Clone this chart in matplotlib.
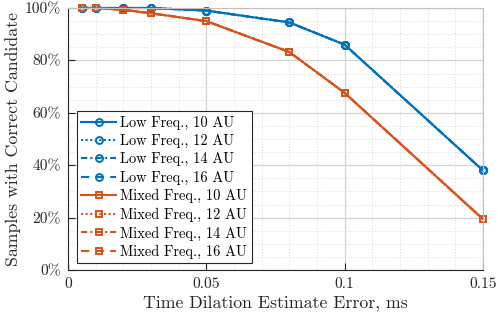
import matplotlib.pyplot as plt
from matplotlib.ticker import MultipleLocator, FuncFormatter

# data
err_ms = [0.005, 0.01, 0.02, 0.03, 0.05, 0.08, 0.1, 0.15]
low_freq = [100, 100, 100, 100, 99, 94.5, 86, 38]
mixed_freq = [100, 100, 99.3, 98, 95, 83.2, 67.6, 19.4]
au_labels = ['10 AU', '12 AU', '14 AU', '16 AU']
styles = ['-', (0, (1, 1.2)), (0, (3, 1.5, 1, 1.5)), (0, (4, 3))]

BLUE = '#0072BD'
ORANGE = '#D95319'

plt.rcParams['font.family'] = ['cmr10', 'DejaVu Serif']
plt.rcParams['mathtext.fontset'] = 'cm'
plt.rcParams['axes.formatter.use_mathtext'] = True

fig = plt.figure(figsize=(4.98, 3.17), dpi=100)
ax = fig.add_axes([68 / 498, 47 / 317, 415 / 498, 262 / 317])

for name, vals, col, mk in [('Low Freq.', low_freq, BLUE, 'o'),
                            ('Mixed Freq.', mixed_freq, ORANGE, 's')]:
   for au, ls in zip(au_labels, styles):
      ax.plot(err_ms, vals, ls=ls, color=col, marker=mk, markersize=5,
              markerfacecolor='none', markeredgewidth=1.4, linewidth=1.5,
              label='%s, %s' % (name, au), clip_on=False)

ax.set_xlim(0, 0.15)
ax.set_ylim(0, 100)
ax.xaxis.set_major_locator(MultipleLocator(0.05))
ax.xaxis.set_minor_locator(MultipleLocator(0.01))
ax.yaxis.set_major_locator(MultipleLocator(20))
ax.yaxis.set_minor_locator(MultipleLocator(5))
ax.xaxis.set_major_formatter(FuncFormatter(lambda v, p: '0' if v == 0 else ('%g' % round(v, 3))))
ax.yaxis.set_major_formatter(FuncFormatter(lambda v, p: '%d%%' % v))

ax.grid(which='major', color='#d4d4d4', linewidth=0.9, linestyle='-')
ax.grid(which='minor', color='#d8d8d8', linewidth=0.7, linestyle=(0, (1, 2)))
ax.set_axisbelow(True)
ax.tick_params(which='major', direction='in', length=5, width=0.8, color='#262626',
               labelsize=11.2, labelcolor='#262626', pad=5)
ax.tick_params(which='minor', length=0)
ax.tick_params(top=False, right=False)
for s in ['left', 'bottom']:
   ax.spines[s].set_color('#262626')
for s in ['top', 'right']:
   ax.spines[s].set_color('#c0c0c0')

ax.set_xlabel('Time Dilation Estimate Error, ms', fontsize=12.8, color='#262626', labelpad=3)
ax.set_ylabel('Samples with Correct Candidate', fontsize=12.8, color='#262626', labelpad=3)

leg = ax.legend(loc='lower left', bbox_to_anchor=(0.022, 0.025), fontsize=10.4,
                handlelength=2.4, handletextpad=0.3, labelspacing=0.3,
                borderpad=0.3, borderaxespad=0, fancybox=False, framealpha=1)
leg.get_frame().set_edgecolor('#262626')
leg.get_frame().set_linewidth(0.8)

fig.savefig('out.png', dpi=100)
